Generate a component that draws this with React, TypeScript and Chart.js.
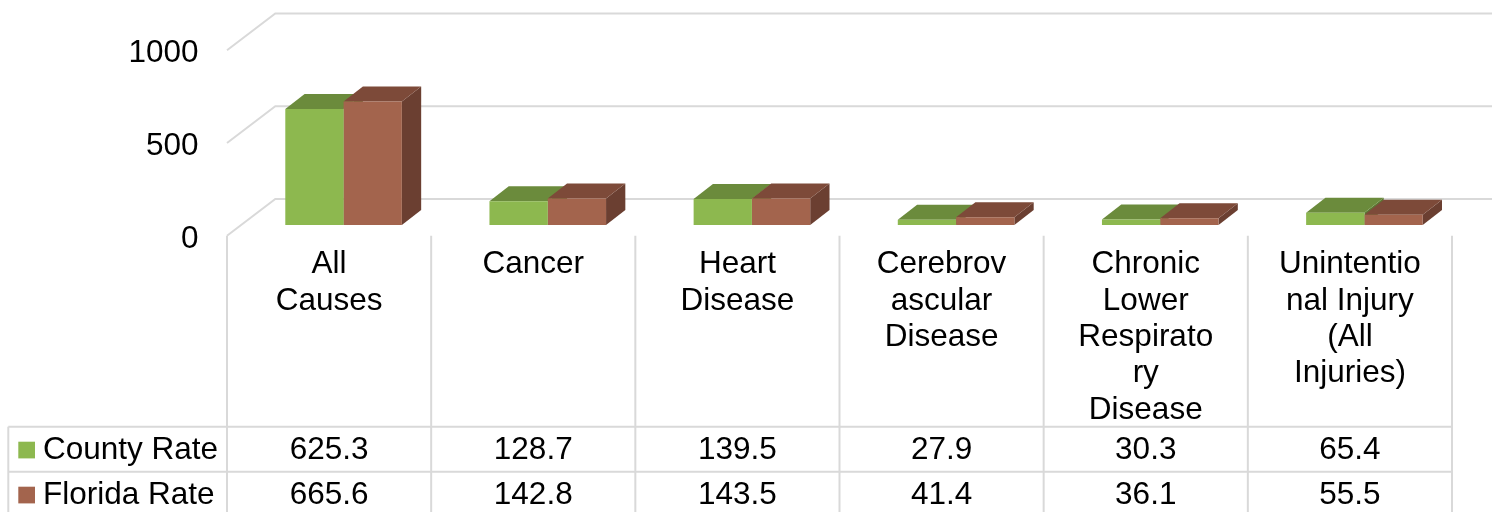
import React, { useEffect, useRef } from "react";
import { Chart, registerables } from "chart.js";

Chart.register(...registerables);

// ---- data ----
const categories: string[][] = [
  ["All", "Causes"],
  ["Cancer"],
  ["Heart", "Disease"],
  ["Cerebrov", "ascular", "Disease"],
  ["Chronic", "Lower", "Respirato", "ry", "Disease"],
  ["Unintentio", "nal Injury", "(All", "Injuries)"],
];
const countyRate = [625.3, 128.7, 139.5, 27.9, 30.3, 65.4];
const floridaRate = [665.6, 142.8, 143.5, 41.4, 36.1, 55.5];
const seriesNames = ["County Rate", "Florida Rate"];
const yTicks = [0, 500, 1000];

// ---- styles ----
const FRONT_COLORS = ["#8DB84F", "#A3644D"];
const TOP_COLORS = ["#6B8B3C", "#7D4A39"];
const SIDE_COLORS = ["#5C7833", "#6B3F31"];
const GRID = "#D9D9D9";
const FONT = '31.5px "Liberation Sans", Arial, sans-serif';

const FRONT = { dx: -14.5, dy: 10.7 }; // front floor plane relative to bar plane
const BACK = { dx: 33.8, dy: -26 }; // back wall relative to bar plane
const DEPTH = { dx: 19.3, dy: -15 }; // bar depth

const LINE_H = 36.3;
const ROW_TOP = 426.7;
const ROW_H = 45;
const TABLE_LEFT = 8.3;

const threeD = {
  id: "threeD",
  beforeDatasetsDraw(chart: any) {
    const ctx = chart.ctx;
    const y = chart.scales.y;
    const area = chart.chartArea;
    ctx.save();
    ctx.strokeStyle = GRID;
    ctx.lineWidth = 2;
    // back wall gridlines and side diagonals
    yTicks.forEach((v) => {
      const py = y.getPixelForValue(v);
      ctx.beginPath();
      ctx.moveTo(area.left + FRONT.dx, py + FRONT.dy);
      ctx.lineTo(area.left + BACK.dx, py + BACK.dy);
      ctx.lineTo(chart.width, py + BACK.dy);
      ctx.stroke();
    });
    // tick labels
    ctx.fillStyle = "#000";
    ctx.font = FONT;
    ctx.textAlign = "right";
    ctx.textBaseline = "middle";
    yTicks.forEach((v) => {
      const py = y.getPixelForValue(v);
      ctx.fillText(String(v), 198.5, py + FRONT.dy + 3.5);
    });
    // sides and tops of bars (fronts drawn by Chart.js afterwards)
    const metas = chart.data.datasets.map((_: any, i: number) => chart.getDatasetMeta(i));
    for (let c = 0; c < categories.length; c++) {
      metas.forEach((meta: any, d: number) => {
        const el = meta.data[c];
        if (!el) return;
        const { x, y: top, base, width } = el.getProps(["x", "y", "base", "width"], true);
        const l = x - width / 2;
        const r = x + width / 2;
        // side
        ctx.fillStyle = SIDE_COLORS[d];
        ctx.beginPath();
        ctx.moveTo(r, top);
        ctx.lineTo(r + DEPTH.dx, top + DEPTH.dy);
        ctx.lineTo(r + DEPTH.dx, base + DEPTH.dy);
        ctx.lineTo(r, base);
        ctx.closePath();
        ctx.fill();
        // top
        ctx.fillStyle = TOP_COLORS[d];
        ctx.beginPath();
        ctx.moveTo(l, top);
        ctx.lineTo(l + DEPTH.dx, top + DEPTH.dy);
        ctx.lineTo(r + DEPTH.dx, top + DEPTH.dy);
        ctx.lineTo(r, top);
        ctx.closePath();
        ctx.fill();
      });
    }
    ctx.restore();
  },
  afterDraw(chart: any) {
    const ctx = chart.ctx;
    const xs = chart.scales.x;
    const ys = chart.scales.y;
    const area = chart.chartArea;
    const catW = (area.right - area.left) / categories.length;
    const floorY = ys.getPixelForValue(0) + FRONT.dy;
    const colX = (i: number) => area.left + FRONT.dx + i * catW;
    const bottom = chart.height;
    ctx.save();
    ctx.strokeStyle = GRID;
    ctx.lineWidth = 2;
    // vertical column lines
    for (let i = 0; i <= categories.length; i++) {
      ctx.beginPath();
      ctx.moveTo(colX(i), floorY);
      ctx.lineTo(colX(i), bottom);
      ctx.stroke();
    }
    // left border for value rows
    ctx.beginPath();
    ctx.moveTo(TABLE_LEFT, ROW_TOP);
    ctx.lineTo(TABLE_LEFT, bottom);
    ctx.stroke();
    // horizontal row lines
    for (let r = 0; r <= seriesNames.length; r++) {
      const yy = ROW_TOP + r * ROW_H;
      ctx.beginPath();
      ctx.moveTo(TABLE_LEFT, yy);
      ctx.lineTo(colX(categories.length), yy);
      ctx.stroke();
    }
    // category labels
    ctx.fillStyle = "#000";
    ctx.font = FONT;
    ctx.textAlign = "center";
    ctx.textBaseline = "middle";
    categories.forEach((lines, i) => {
      const cx = xs.getPixelForValue(i) + FRONT.dx;
      lines.forEach((t, k) => {
        ctx.fillText(t, cx, floorY + 29 + k * LINE_H);
      });
    });
    // values rows
    const series = [countyRate, floridaRate];
    series.forEach((vals, r) => {
      const cy = ROW_TOP + r * ROW_H + ROW_H / 2 + 1.5;
      // legend key
      ctx.fillStyle = FRONT_COLORS[r];
      ctx.fillRect(18.3, cy - 9, 16.7, 16.7);
      ctx.fillStyle = "#000";
      ctx.textAlign = "left";
      ctx.fillText(seriesNames[r], 43, cy);
      ctx.textAlign = "center";
      vals.forEach((v, i) => {
        const cx = xs.getPixelForValue(i) + FRONT.dx;
        ctx.fillText(v.toFixed(1), cx, cy);
      });
    });
    ctx.restore();
  },
};

export default function App() {
  const ref = useRef<HTMLCanvasElement | null>(null);
  useEffect(() => {
    document.body.style.margin = "0";
    const canvas = ref.current!;
    const chart = new Chart(canvas, {
      type: "bar",
      data: {
        labels: categories.map((c) => c.join(" ")),
        datasets: [
          { label: seriesNames[0], data: countyRate, backgroundColor: FRONT_COLORS[0] },
          { label: seriesNames[1], data: floridaRate, backgroundColor: FRONT_COLORS[1] },
        ],
      },
      options: {
        responsive: false,
        animation: false,
        devicePixelRatio: 1,
        layout: { padding: { left: 241.5, right: 25.5, top: 39.5, bottom: 287 } },
        datasets: { bar: { categoryPercentage: 0.571, barPercentage: 1.0, borderWidth: 0 } },
        scales: {
          x: { display: false },
          y: { display: false, min: 0, max: 1000, ticks: { stepSize: 500 } },
        },
        plugins: { legend: { display: false }, tooltip: { enabled: false } },
      },
      plugins: [threeD],
    });
    return () => chart.destroy();
  }, []);
  return (
    <div style={{ position: "absolute", left: 0, top: 0, width: 1492, height: 512, background: "#fff" }}>
      <canvas ref={ref} width={1492} height={512} style={{ display: "block" }} />
    </div>
  );
}
